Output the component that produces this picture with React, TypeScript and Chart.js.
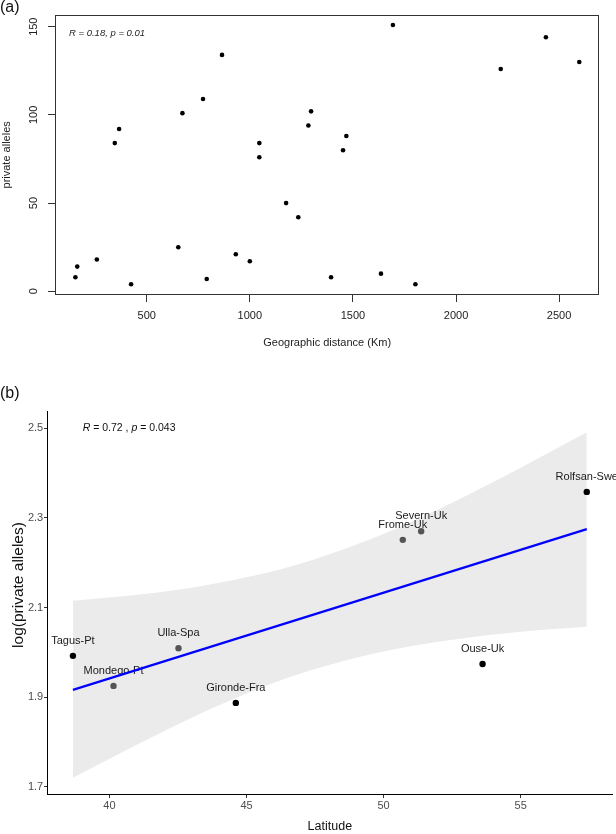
import React, { useEffect, useRef } from "react";
import { Chart, registerables } from "chart.js";

Chart.register(...registerables);

const FONT = '"Liberation Sans", Arial, Helvetica, sans-serif';

// ---------- Panel (a): private alleles vs geographic distance ----------
const distanceKm = [
  154, 163, 258, 345, 366, 424, 653, 673, 773, 791, 865, 932, 1000, 1046,
  1046, 1176, 1235, 1284, 1297, 1394, 1452, 1468, 1636, 1694, 1803, 2217,
  2436, 2598,
];
const privateAlleles = [
  8, 14, 18, 84, 92, 4, 25, 101, 109, 7, 134, 21, 17, 84, 76, 50, 42, 94,
  102, 8, 80, 88, 10, 151, 4, 126, 144, 130,
];
const distanceTicks = [500, 1000, 1500, 2000, 2500];
const allelesTicks = [0, 50, 100, 150];
const statsTextA = "R = 0.18, p = 0.01";

// ---------- Panel (b): log(private alleles) vs latitude ----------
const sites = [
  "Tagus-Pt",
  "Mondego-Pt",
  "Ulla-Spa",
  "Gironde-Fra",
  "Frome-Uk",
  "Severn-Uk",
  "Ouse-Uk",
  "Rolfsan-Swe",
];
const latitude = [38.67, 40.15, 42.52, 44.61, 50.7, 51.37, 53.61, 57.41];
const logAlleles = [1.992, 1.925, 2.009, 1.887, 2.251, 2.27, 1.974, 2.358];
const siteColors = [
  "#000000",
  "#555555",
  "#555555",
  "#000000",
  "#555555",
  "#555555",
  "#000000",
  "#000000",
];
const fitLatitude = [38.67, 57.41];
const fitLogAlleles = [1.916, 2.275];
const bandLatitude = [38.67, 40.5, 43, 45.5, 47.4, 50, 52.5, 55, 57.41];
const bandUpper = [2.115, 2.125, 2.144, 2.174, 2.206, 2.264, 2.334, 2.412, 2.491];
const bandLower = [1.72, 1.778, 1.854, 1.92, 1.961, 2.002, 2.028, 2.046, 2.057];
const latitudeTicks = [40, 45, 50, 55];
const logTicks = [1.7, 1.9, 2.1, 2.3, 2.5];
const statsPartsB = [
  { text: "R", italic: true },
  { text: " = 0.72 , ", italic: false },
  { text: "p", italic: true },
  { text: " = 0.043", italic: false },
];

export default function App() {
  const refA = useRef<HTMLCanvasElement | null>(null);
  const refB = useRef<HTMLCanvasElement | null>(null);

  useEffect(() => {
    if (!refA.current || !refB.current) return;

    const plugA = {
      id: "panelA",
      afterDraw(chart: any) {
        const { ctx, chartArea: ca } = chart;
        ctx.save();
        ctx.strokeStyle = "#333333";
        ctx.lineWidth = 1;
        const l = Math.round(ca.left) + 0.5;
        const t = Math.round(ca.top) + 0.5;
        const r = Math.round(ca.right) - 0.5;
        const b = Math.round(ca.bottom) - 0.5;
        ctx.strokeRect(l, t, r - l, b - t);

        ctx.fillStyle = "#222222";
        ctx.font = `11px ${FONT}`;
        ctx.textAlign = "center";
        ctx.textBaseline = "middle";
        const ys = chart.scales.y;
        allelesTicks.forEach((v) => {
          const y = ys.getPixelForValue(v);
          ctx.save();
          ctx.translate(33.5, y);
          ctx.rotate(-Math.PI / 2);
          ctx.fillText(String(v), 0, 0);
          ctx.restore();
        });

        ctx.textAlign = "left";
        ctx.fillStyle = "#111111";
        ctx.font = `16px ${FONT}`;
        ctx.fillText("(a)", 0, 8);
        ctx.fillStyle = "#222222";
        ctx.font = `italic 9.5px ${FONT}`;
        ctx.fillText(statsTextA, 69, 33);
        ctx.restore();
      },
    };

    const chartA = new Chart(refA.current, {
      type: "scatter",
      data: {
        datasets: [
          {
            data: distanceKm.map((x, i) => ({ x, y: privateAlleles[i] })),
            pointRadius: 2.3,
            pointBackgroundColor: "#000000",
            pointBorderWidth: 0,
            showLine: false,
          },
        ],
      },
      options: {
        responsive: false,
        animation: false,
        events: [],
        layout: { padding: { top: 14.7, right: 16.7, left: 0, bottom: 0 } },
        plugins: { legend: { display: false }, tooltip: { enabled: false } },
        scales: {
          x: {
            type: "linear",
            min: 55,
            max: 2695,
            afterBuildTicks: (s: any) => {
              s.ticks = distanceTicks.map((v) => ({ value: v }));
            },
            afterFit: (s: any) => {
              s.height = 75;
            },
            grid: {
              drawOnChartArea: false,
              drawTicks: true,
              tickLength: 7,
              color: "#333333",
              lineWidth: 1,
            },
            border: { display: false },
            ticks: {
              font: { family: FONT, size: 11 },
              color: "#222222",
              padding: 7,
              maxRotation: 0,
              autoSkip: false,
              callback: (v: any) => String(v),
            },
            title: {
              display: true,
              text: "Geographic distance (Km)",
              font: { family: FONT, size: 11 },
              color: "#222222",
              padding: { top: 0, bottom: 20 },
            },
          },
          y: {
            type: "linear",
            min: -2.1,
            max: 156.8,
            afterBuildTicks: (s: any) => {
              s.ticks = allelesTicks.map((v) => ({ value: v }));
            },
            afterFit: (s: any) => {
              s.width = 55;
            },
            grid: {
              drawOnChartArea: false,
              drawTicks: true,
              tickLength: 7,
              color: "#333333",
              lineWidth: 1,
            },
            border: { display: false },
            ticks: { display: false },
            title: {
              display: true,
              text: "private alleles",
              font: { family: FONT, size: 11 },
              color: "#222222",
              padding: { top: 0.7, bottom: 0 },
            },
          },
        },
      },
      plugins: [plugA],
    } as any);

    const plugB = {
      id: "panelB",
      beforeDatasetDraw(chart: any, args: any) {
        if (args.index !== 1) return;
        const { ctx } = chart;
        const meta = chart.getDatasetMeta(0);
        ctx.save();
        ctx.font = `11px ${FONT}`;
        ctx.fillStyle = "#1a1a1a";
        ctx.textAlign = "center";
        ctx.textBaseline = "middle";
        meta.data.forEach((pt: any, i: number) => {
          ctx.fillText(sites[i], pt.x, pt.y - 15);
        });
        ctx.restore();
      },
      afterDraw(chart: any) {
        const { ctx } = chart;
        ctx.save();
        ctx.fillStyle = "#111111";
        ctx.textBaseline = "middle";
        ctx.textAlign = "left";
        ctx.font = `16px ${FONT}`;
        ctx.fillText("(b)", 0, 14);

        let x = 82.7;
        statsPartsB.forEach((p) => {
          ctx.font = `${p.italic ? "italic " : ""}10.5px ${FONT}`;
          ctx.fillText(p.text, x, 47.7);
          x += ctx.measureText(p.text).width;
        });

        ctx.save();
        ctx.translate(18.3, 205);
        ctx.rotate(-Math.PI / 2);
        ctx.textAlign = "center";
        ctx.font = `15.5px ${FONT}`;
        ctx.fillStyle = "#111111";
        ctx.fillText("log(private alleles)", 0, 0);
        ctx.restore();
        ctx.restore();
      },
    };

    const chartB = new Chart(refB.current, {
      type: "scatter",
      data: {
        datasets: [
          {
            type: "scatter",
            data: latitude.map((x, i) => ({ x, y: logAlleles[i] })),
            pointRadius: 3.2,
            pointBackgroundColor: siteColors,
            pointBorderWidth: 0,
            showLine: false,
          },
          {
            type: "line",
            data: fitLatitude.map((x, i) => ({ x, y: fitLogAlleles[i] })),
            borderColor: "#0000FF",
            borderWidth: 2.2,
            pointRadius: 0,
            fill: false,
          },
          {
            type: "line",
            data: bandLatitude.map((x, i) => ({ x, y: bandUpper[i] })),
            borderColor: "rgba(0,0,0,0)",
            borderWidth: 0,
            pointRadius: 0,
            backgroundColor: "#EBEBEB",
            fill: "+1",
            cubicInterpolationMode: "monotone",
          },
          {
            type: "line",
            data: bandLatitude.map((x, i) => ({ x, y: bandLower[i] })),
            borderColor: "rgba(0,0,0,0)",
            borderWidth: 0,
            pointRadius: 0,
            fill: false,
            cubicInterpolationMode: "monotone",
          },
        ],
      },
      options: {
        responsive: false,
        animation: false,
        events: [],
        layout: { padding: { top: 31.7, right: 1.7, left: 0, bottom: 0 } },
        plugins: { legend: { display: false }, tooltip: { enabled: false } },
        scales: {
          x: {
            type: "linear",
            min: 37.75,
            max: 58.33,
            afterBuildTicks: (s: any) => {
              s.ticks = latitudeTicks.map((v) => ({ value: v }));
            },
            afterFit: (s: any) => {
              s.height = 39.7;
            },
            grid: {
              drawOnChartArea: false,
              drawTicks: true,
              tickLength: 3.7,
              color: "#333333",
              lineWidth: 1,
            },
            border: { display: true, color: "#000000", width: 1 },
            ticks: {
              font: { family: FONT, size: 11 },
              color: "#4D4D4D",
              padding: 1.5,
              maxRotation: 0,
              autoSkip: false,
              callback: (v: any) => String(v),
            },
            title: {
              display: true,
              text: "Latitude",
              font: { family: FONT, size: 12.5 },
              color: "#111111",
              padding: { top: 0, bottom: 0 },
            },
          },
          y: {
            type: "linear",
            min: 1.683,
            max: 2.537,
            afterBuildTicks: (s: any) => {
              s.ticks = logTicks.map((v) => ({ value: v }));
            },
            afterFit: (s: any) => {
              s.width = 47.7;
            },
            grid: {
              drawOnChartArea: false,
              drawTicks: true,
              tickLength: 3.7,
              color: "#333333",
              lineWidth: 1,
            },
            border: { display: true, color: "#000000", width: 1 },
            ticks: {
              font: { family: FONT, size: 11 },
              color: "#4D4D4D",
              padding: 0.8,
              callback: (v: any) => Number(v).toFixed(1),
            },
            title: { display: false },
          },
        },
      },
      plugins: [plugB],
    } as any);

    return () => {
      chartA.destroy();
      chartB.destroy();
    };
  }, []);

  return (
    <div
      style={{
        position: "absolute",
        left: 0,
        top: 0,
        width: 616,
        height: 834,
        background: "#ffffff",
      }}
    >
      <canvas
        ref={refA}
        width={616}
        height={370}
        style={{ position: "absolute", left: 0, top: 0, width: 616, height: 370 }}
      />
      <canvas
        ref={refB}
        width={616}
        height={454}
        style={{ position: "absolute", left: 0, top: 380, width: 616, height: 454 }}
      />
    </div>
  );
}
